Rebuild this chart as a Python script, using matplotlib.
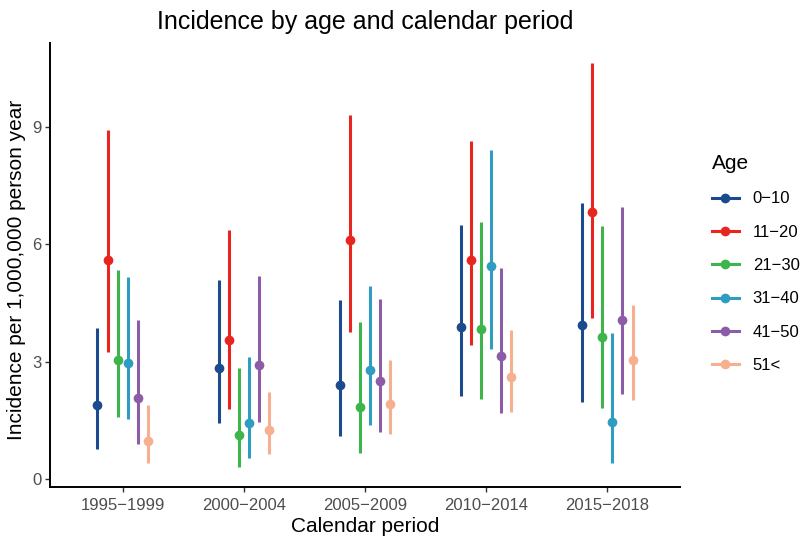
import numpy as np
import matplotlib
matplotlib.use("Agg")
import matplotlib.pyplot as plt
from matplotlib.lines import Line2D

plt.rcParams['font.family'] = ['Liberation Sans', 'DejaVu Sans']

# Data
periods = ['1995\u22121999', '2000\u22122004', '2005\u22122009', '2010\u22122014', '2015\u22122018']
ages = ['0\u221210', '11\u221220', '21\u221230', '31\u221240', '41\u221250', '51<']
colours = ['#1B4A8E', '#E8251F', '#3DB54A', '#2F9CC2', '#8C5DA6', '#F6B08F']

# incidence estimate, lower and upper CI (rows = age group, cols = period)
est = [
    [1.89, 2.85, 2.41, 3.89, 3.95],
    [5.59, 3.57, 6.10, 5.61, 6.82],
    [3.06, 1.12, 1.85, 3.84, 3.63],
    [2.96, 1.45, 2.78, 5.44, 1.47],
    [2.08, 2.92, 2.51, 3.16, 4.06],
    [0.98, 1.26, 1.93, 2.62, 3.06],
]
lower = [
    [0.77, 1.43, 1.11, 2.13, 1.98],
    [3.25, 1.79, 3.77, 3.43, 4.12],
    [1.59, 0.32, 0.68, 2.06, 1.83],
    [1.55, 0.55, 1.39, 3.33, 0.43],
    [0.91, 1.46, 1.21, 1.70, 2.19],
    [0.42, 0.64, 1.15, 1.73, 2.02],
]
upper = [
    [3.87, 5.09, 4.57, 6.49, 7.06],
    [8.93, 6.36, 9.31, 8.65, 10.63],
    [5.34, 2.85, 4.01, 6.56, 6.48],
    [5.17, 3.13, 4.95, 8.40, 3.74],
    [4.08, 5.20, 4.61, 5.40, 6.95],
    [1.90, 2.23, 3.04, 3.81, 4.46],
]

fig = plt.figure(figsize=(8.04, 5.37), dpi=100)
ax = fig.add_axes([0.0622, 0.0931, 0.7836, 0.827])

x = np.arange(len(periods))
dodge = 0.5
n = len(ages)
for i in range(n):
    off = (i - (n - 1) / 2) * dodge / n
    xi = x + off
    ax.vlines(xi, lower[i], upper[i], color=colours[i], lw=2.2)
    ax.plot(xi, est[i], 'o', color=colours[i], ms=7, mec='none')

# ggplot-like expansion: 0.6 on discrete axis, 5% on continuous
ax.set_xlim(-0.6, len(periods) - 0.4)
ymin = min(min(r) for r in lower)
ymax = max(max(r) for r in upper)
pad = 0.05 * (ymax - ymin)
ax.set_ylim(ymin - pad, ymax + pad)
ax.set_xticks(x)
ax.set_xticklabels(periods)
ax.set_yticks([0, 3, 6, 9])

for s in ['top', 'right']:
    ax.spines[s].set_visible(False)
for s in ['left', 'bottom']:
    ax.spines[s].set_linewidth(1.4)
    ax.spines[s].set_color('black')
ax.tick_params(axis='both', length=3.5, width=1.0, color='#333333',
               labelsize=12, labelcolor='#4D4D4D', pad=2.5)
ax.tick_params(axis='x', pad=4.5)

ax.set_xlabel('Calendar period', fontsize=15, labelpad=3)
ax.set_ylabel('Incidence per 1,000,000 person year', fontsize=15)
ax.yaxis.set_label_coords(-0.038, 0.49)
ax.set_title('Incidence by age and calendar period', fontsize=18, pad=10)

handles = [Line2D([0], [0], color=c, lw=2.2, marker='o', ms=7, mec='none')
           for c in colours]
leg = ax.legend(handles, ages, title='Age', loc='center left',
                bbox_to_anchor=(1.04, 0.503), frameon=False, fontsize=12,
                title_fontsize=15, handlelength=1.6, labelspacing=1.1,
                handletextpad=0.85, borderaxespad=0)
leg._legend_box.align = 'left'

fig.savefig('out.png', dpi=100)
